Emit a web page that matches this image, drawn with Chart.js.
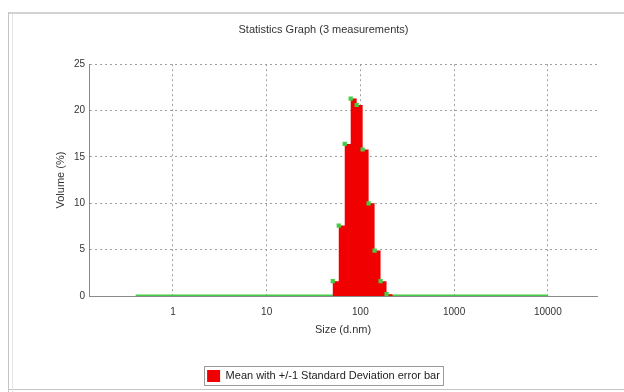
<!DOCTYPE html>
<html>
<head>
<meta charset="utf-8">
<script src="https://cdn.jsdelivr.net/npm/chart.js@4"></script>
<style>
  html, body { margin: 0; padding: 0; background: #fff; }
  #wrap { position: relative; width: 624px; height: 392px; }
</style>
</head>
<body>
<div id="wrap"><canvas id="statsChart"></canvas></div>
<script>
// size classes (d.nm)
const sizes = [0.4, 0.4632, 0.5365, 0.6213, 0.7195, 0.8332, 0.9649, 1.117, 1.294, 1.499,
  1.736, 2.01, 2.328, 2.696, 3.122, 3.615, 4.187, 4.849, 5.615, 6.503,
  7.531, 8.721, 10.1, 11.7, 13.54, 15.69, 18.17, 21.04, 24.36, 28.21,
  32.67, 37.84, 43.82, 50.75, 58.77, 68.06, 78.82, 91.28, 105.7, 122.4,
  141.8, 164.2, 190.1, 220.2, 255, 295.3, 342, 396.1, 458.7, 531.2,
  615.1, 712.4, 825, 955.4, 1106, 1281, 1484, 1718, 1990, 2305,
  2669, 3091, 3580, 4145, 4801, 5560, 6439, 7456, 8635, 10000];
// mean volume (%)
const volume = [0, 0, 0, 0, 0, 0, 0, 0, 0, 0,
  0, 0, 0, 0, 0, 0, 0, 0, 0, 0,
  0, 0, 0, 0, 0, 0, 0, 0, 0, 0,
  0, 0, 0, 1.6, 7.6, 16.4, 21.3, 20.6, 15.8, 10.0,
  4.9, 1.6, 0.2, 0, 0, 0, 0, 0, 0, 0,
  0, 0, 0, 0, 0, 0, 0, 0, 0, 0,
  0, 0, 0, 0, 0, 0, 0, 0, 0, 0];
const xTicks = [1, 10, 100, 1000, 10000];
const yTicks = [0, 5, 10, 15, 20, 25];

const RED = '#f00000';
const GREEN = '#44cc44';
const GRID = '#a0a0a0';
const FONT = 'Liberation Sans, Arial, sans-serif';

const points = sizes.map((s, i) => ({ x: s, y: volume[i] }));

const framePlugin = {
  id: 'frame',
  beforeDraw(chart) {
    const c = chart.ctx;
    c.save();
    c.fillStyle = '#fff';
    c.fillRect(0, 0, chart.width, chart.height);
    c.strokeStyle = '#d2d2d2';
    c.lineWidth = 2;
    c.beginPath();
    c.moveTo(8, 13); c.lineTo(chart.width, 13);
    c.stroke();
    c.lineWidth = 1;
    c.strokeStyle = '#c4c4c4';
    c.beginPath();
    c.moveTo(8.5, 12); c.lineTo(8.5, chart.height);
    c.moveTo(8, 389.5); c.lineTo(chart.width, 389.5);
    c.stroke();
    c.strokeStyle = '#e4e4e4';
    c.beginPath();
    c.moveTo(12.5, 14); c.lineTo(12.5, chart.height);
    c.stroke();
    c.restore();
  },
  afterDraw(chart) {
    const hb = chart.legend && chart.legend.legendHitBoxes[0];
    if (!hb) return;
    const c = chart.ctx;
    c.save();
    c.strokeStyle = '#9a9a9a';
    c.lineWidth = 1;
    c.strokeRect(Math.round(hb.left) - 2.5, Math.round(hb.top) - 3.5,
      Math.round(hb.width) + 6, Math.round(hb.height) + 7);
    c.restore();
  }
};

new Chart(document.getElementById('statsChart'), {
  type: 'line',
  data: {
    datasets: [
      {
        label: 'sd',
        data: points,
        showLine: false,
        pointStyle: 'rect',
        pointRadius: ctx => (ctx.raw && ctx.raw.y > 0 ? 3 : 0),
        pointBackgroundColor: GREEN,
        pointBorderWidth: 0
      },
      {
        label: 'Mean with +/-1 Standard Deviation error bar',
        data: points,
        stepped: true,
        fill: 'origin',
        backgroundColor: RED,
        borderColor: RED,
        borderWidth: 0,
        pointRadius: 0
      },
      {
        label: 'base',
        data: sizes.map(s => ({ x: s, y: 0 })),
        borderColor: GREEN,
        borderWidth: 3,
        pointRadius: 0
      }
    ]
  },
  options: {
    responsive: true,
    maintainAspectRatio: false,
    animation: false,
    layout: { padding: { left: 50, right: 27, top: 0, bottom: 0 } },
    plugins: {
      title: {
        display: true,
        text: 'Statistics Graph (3 measurements)',
        color: '#333',
        font: { family: FONT, size: 11, weight: 'normal' },
        padding: { top: 23, bottom: 28 }
      },
      legend: {
        position: 'bottom',
        labels: {
          filter: item => item.datasetIndex === 1,
          boxWidth: 13,
          boxHeight: 12,
          padding: 8,
          color: '#222',
          font: { family: FONT, size: 11 }
        }
      },
      tooltip: { enabled: false }
    },
    scales: {
      x: {
        type: 'logarithmic',
        min: 0.127,
        max: 33500,
        afterBuildTicks: scale => { scale.ticks = xTicks.map(v => ({ value: v })); },
        afterFit: scale => { scale.height = 66; },
        ticks: {
          callback: v => String(v),
          color: '#333',
          padding: 10,
          maxRotation: 0,
          font: { family: FONT, size: 10 }
        },
        grid: { color: GRID, drawTicks: false },
        border: { display: true, color: '#8a8a8a', width: 1, dash: [2, 3] },
        title: {
          display: true,
          text: 'Size (d.nm)',
          color: '#333',
          font: { family: FONT, size: 11 },
          padding: { top: 0, bottom: 25 }
        }
      },
      y: {
        min: 0,
        max: 25,
        afterBuildTicks: scale => { scale.ticks = yTicks.map(v => ({ value: v })); },
        afterFit: scale => { scale.width = 39; },
        ticks: {
          color: '#333',
          padding: 4,
          font: { family: FONT, size: 10 }
        },
        grid: {
          color: ctx => (ctx.tick && ctx.tick.value === 0 ? 'rgba(0,0,0,0)' : GRID),
          drawTicks: false
        },
        border: { display: true, color: '#8a8a8a', width: 1, dash: [2, 3] },
        title: {
          display: true,
          text: 'Volume (%)',
          color: '#333',
          font: { family: FONT, size: 11 },
          padding: { top: 4, bottom: 0 }
        }
      }
    }
  },
  plugins: [framePlugin]
});
</script>
</body>
</html>
